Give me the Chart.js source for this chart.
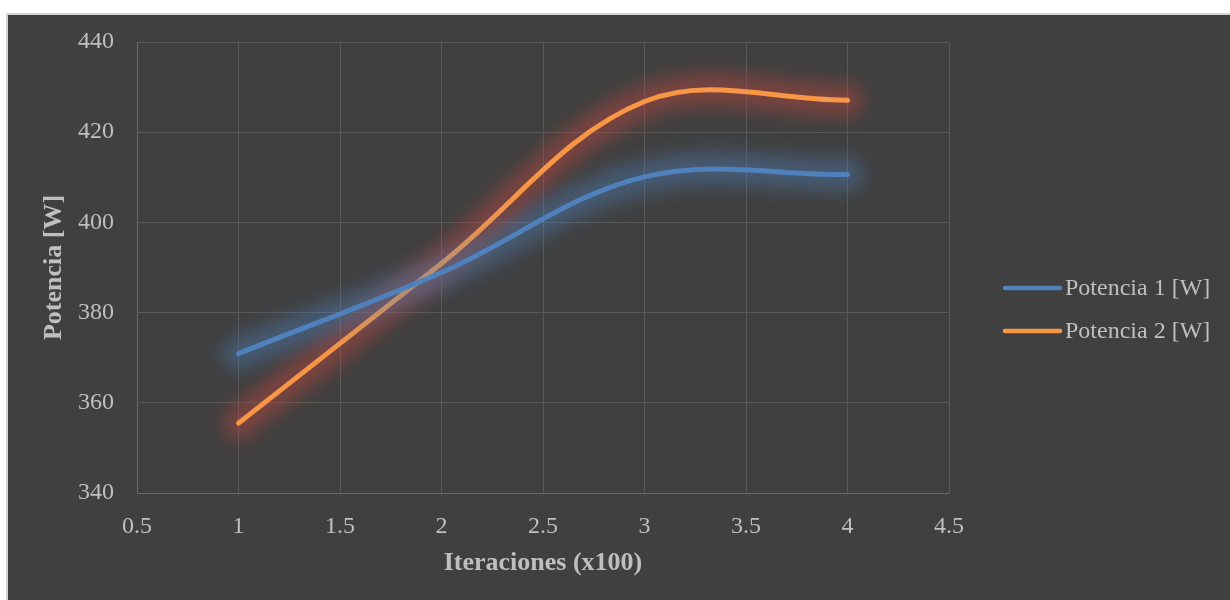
<!DOCTYPE html>
<html lang="es">
<head>
<meta charset="utf-8">
<title>Potencia vs Iteraciones</title>
<script src="https://cdn.jsdelivr.net/npm/chart.js@4.4.1/dist/chart.umd.min.js"></script>
<style>
  html, body { margin: 0; padding: 0; background: #ffffff; }
  #wrap { position: relative; width: 1230px; height: 600px; }
  canvas { display: block; }
</style>
</head>
<body>
<div id="wrap"><canvas id="chart" width="1230" height="600"></canvas></div>
<script>
// Iteraciones (x100) and measured power for both runs
const iteraciones = [1, 2, 3, 4];
const potencia1 = [370.9, 388.9, 410.1, 410.6];
const potencia2 = [355.5, 390.9, 426.8, 427.1];
const seriesLabels = ['Potencia 1 [W]', 'Potencia 2 [W]'];

const xTitle = 'Iteraciones (x100)';
const yTitle = 'Potencia [W]';

const TEXT = '#bfbfbf';
const SERIF = '"Liberation Serif", "DejaVu Serif", serif';

const toPoints = (ys) => iteraciones.map((x, i) => ({ x: x, y: ys[i] }));

// Dark panel with a thin light frame on the top and left edges
const panelBackground = {
  id: 'panelBackground',
  beforeDraw(chart) {
    const ctx = chart.ctx;
    ctx.save();
    ctx.fillStyle = '#ffffff';
    ctx.fillRect(0, 0, chart.width, chart.height);
    ctx.fillStyle = '#d4d4d4';
    ctx.fillRect(6, 13, chart.width - 6, chart.height - 13);
    ctx.fillStyle = '#404040';
    ctx.fillRect(8, 15, chart.width - 8, chart.height - 15);
    ctx.restore();
  }
};

// Soft glow: the series path stroked wide, faint and blurred under the line
const lineGlow = {
  id: 'lineGlow',
  beforeDatasetDraw(chart, args) {
    const ds = chart.data.datasets[args.index];
    const line = args.meta.dataset;
    if (!line || typeof line.path !== 'function') return;
    const ctx = chart.ctx;
    ctx.save();
    ctx.lineCap = 'round';
    ctx.lineJoin = 'round';
    ctx.strokeStyle = ds.glowColor;
    ctx.filter = 'blur(9px)';
    ctx.lineWidth = 32;
    ctx.beginPath();
    line.path(ctx);
    ctx.stroke();
    ctx.restore();
  }
};

// Legend on the right: a short line sample followed by the series label
const sideLegend = {
  id: 'sideLegend',
  afterDraw(chart, args, opts) {
    const ctx = chart.ctx;
    ctx.save();
    chart.data.datasets.forEach((ds, i) => {
      const y = opts.top + i * opts.spacing;
      ctx.strokeStyle = ds.borderColor;
      ctx.lineWidth = 4.5;
      ctx.lineCap = 'round';
      ctx.beginPath();
      ctx.moveTo(opts.lineStart, y);
      ctx.lineTo(opts.lineEnd, y);
      ctx.stroke();
      ctx.fillStyle = TEXT;
      ctx.font = '24px ' + SERIF;
      ctx.textBaseline = 'middle';
      ctx.textAlign = 'left';
      ctx.fillText(ds.label, opts.textStart, y + 1);
    });
    ctx.restore();
  }
};

const plainNumber = (v) => String(Number(v.toFixed(2)));

new Chart(document.getElementById('chart'), {
  type: 'line',
  data: {
    datasets: [
      {
        label: seriesLabels[0],
        data: toPoints(potencia1),
        borderColor: '#4f81bd',
        glowColor: 'rgba(79,129,189,0.42)',
        borderWidth: 5,
        borderCapStyle: 'round',
        borderJoinStyle: 'round',
        pointRadius: 0,
        pointHoverRadius: 0,
        tension: 0.36,
        fill: false
      },
      {
        label: seriesLabels[1],
        data: toPoints(potencia2),
        borderColor: '#f79646',
        glowColor: 'rgba(196,72,62,0.45)',
        borderWidth: 5,
        borderCapStyle: 'round',
        borderJoinStyle: 'round',
        pointRadius: 0,
        pointHoverRadius: 0,
        tension: 0.36,
        fill: false
      }
    ]
  },
  options: {
    responsive: false,
    animation: false,
    events: [],
    layout: { padding: { top: 42, right: 281, left: 0, bottom: 0 } },
    plugins: {
      legend: { display: false },
      tooltip: { enabled: false },
      sideLegend: { top: 288, spacing: 43, lineStart: 1005, lineEnd: 1060, textStart: 1065 }
    },
    scales: {
      x: {
        type: 'linear',
        min: 0.5,
        max: 4.5,
        afterFit(scale) { scale.height = 107; },
        ticks: {
          stepSize: 0.5,
          color: TEXT,
          padding: 19,
          font: { family: SERIF, size: 24 },
          maxRotation: 0,
          callback: (v) => plainNumber(v)
        },
        grid: { color: '#595959', lineWidth: 1, drawTicks: false },
        border: { color: '#6a6a6a', width: 1 },
        title: {
          display: true,
          text: xTitle,
          color: TEXT,
          font: { family: SERIF, size: 26, weight: 'bold' },
          padding: { top: 0, bottom: 21 }
        }
      },
      y: {
        type: 'linear',
        min: 340,
        max: 440,
        afterFit(scale) { scale.width = 137; },
        ticks: {
          stepSize: 20,
          color: TEXT,
          padding: 23,
          font: { family: SERIF, size: 24 },
          callback: (v) => plainNumber(v)
        },
        grid: { color: '#595959', lineWidth: 1, drawTicks: false },
        border: { color: '#6a6a6a', width: 1 },
        title: {
          display: true,
          text: yTitle,
          color: TEXT,
          font: { family: SERIF, size: 26, weight: 'bold' },
          padding: { top: 39, bottom: 0 }
        }
      }
    }
  },
  plugins: [panelBackground, lineGlow, sideLegend]
});
</script>
</body>
</html>
